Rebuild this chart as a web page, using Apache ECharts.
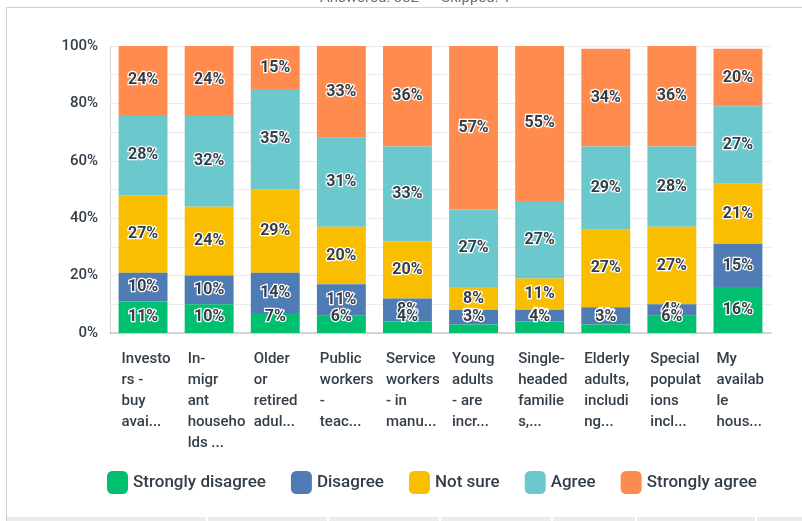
<!DOCTYPE html>
<html>
<head>
<meta charset="utf-8">
<title>Housing survey responses</title>
<script src="https://cdn.jsdelivr.net/npm/echarts@6/dist/echarts.min.js"></script>
<style>
  html, body { margin: 0; padding: 0; background: #ffffff; }
  #chart { width: 802px; height: 521px; }
</style>
</head>
<body>
<div id="chart"></div>
<script>
// Answer groups (one column each), already wrapped the way the axis shows them
var categories = [
  'Investo\nrs -\nbuy\navai...',
  'In-\nmigr\nant\nhouseho\nlds ...',
  'Older\nor\nretired\nadul...',
  'Public\nworkers\n-\nteac...',
  'Service\nworkers\n- in\nmanu...',
  'Young\nadults\n- are\nincr...',
  'Single-\nheaded\nfamilie\ns,...',
  'Elderly\nadults,\nincludi\nng...',
  'Special\npopulat\nions\nincl...',
  'My\navailab\nle\nhous...'
];

// Percent of respondents per answer choice
var stronglyDisagree = [11, 10, 7, 6, 4, 3, 4, 3, 6, 16];
var disagree         = [10, 10, 14, 11, 8, 5, 4, 6, 4, 15];
var notSure          = [27, 24, 29, 20, 20, 8, 11, 27, 27, 21];
var agree            = [28, 32, 35, 31, 33, 27, 27, 29, 28, 27];
var stronglyAgree    = [24, 24, 15, 33, 36, 57, 55, 34, 36, 20];

var seriesNames  = ['Strongly disagree', 'Disagree', 'Not sure', 'Agree', 'Strongly agree'];
var seriesData   = [stronglyDisagree, disagree, notSure, agree, stronglyAgree];
var seriesColors = ['#00bf6f', '#507cb6', '#f9be00', '#6bc8cd', '#ff8b4f'];

var yTicks = [0, 20, 40, 60, 80, 100];

// column dividers of the response table that starts under the chart
var tableDividers = [206, 327, 439, 551, 635, 755];

var textDark = '#333e48';
var chart = echarts.init(document.getElementById('chart'), null, { renderer: 'canvas' });

var series = seriesData.map(function (values, i) {
  return {
    name: seriesNames[i],
    type: 'bar',
    stack: 'total',
    barWidth: '74%',
    // lower segments paint their labels over the ones stacked above
    z: 2 + (seriesData.length - i),
    data: values,
    itemStyle: { color: seriesColors[i] },
    label: {
      show: true,
      position: 'inside',
      formatter: '{c}%',
      fontFamily: 'Roboto',
      fontSize: 16,
      fontWeight: 'bold',
      color: textDark,
      textBorderColor: '#ffffff',
      textBorderWidth: 2.5
    },
    // small bottom segments keep their label fully above the axis
    labelLayout: function (p) {
      var bottom = p.rect.y + p.rect.height;
      var centre = p.rect.y + p.rect.height / 2;
      if (i === 0 && centre > bottom - 16) {
        return {
          x: p.rect.x + p.rect.width / 2,
          y: bottom - 16,
          align: 'center',
          verticalAlign: 'middle'
        };
      }
      return {};
    }
  };
});

var graphics = [
  {
    type: 'rect',
    shape: { x: 6.5, y: 7.5, width: 820, height: 530 },
    style: { fill: 'none', stroke: '#cfcfcf', lineWidth: 1 },
    z: -1
  },
  {
    type: 'rect',
    shape: { x: 7, y: 517, width: 795, height: 4 },
    style: { fill: '#ececec' },
    z: -1
  },
  {
    type: 'text',
    left: 320,
    top: -9,
    style: { text: 'Answered: 382      Skipped: 1', fontFamily: 'Roboto', fontSize: 15, fill: '#6a737d' }
  }
];
tableDividers.forEach(function (x) {
  graphics.push({
    type: 'rect',
    shape: { x: x, y: 517, width: 2, height: 4 },
    style: { fill: '#ffffff' },
    z: 0
  });
});

chart.setOption({
  animation: false,
  backgroundColor: '#ffffff',
  textStyle: { fontFamily: 'Roboto' },
  grid: { left: 110, right: 31, top: 46, bottom: 188 },
  legend: {
    data: seriesNames,
    left: 102,
    top: 466,
    itemWidth: 21,
    itemHeight: 23,
    itemGap: 25,
    icon: 'roundRect',
    selectedMode: false,
    textStyle: { fontFamily: 'Roboto', fontSize: 17, fontWeight: 500, color: textDark }
  },
  xAxis: {
    type: 'category',
    data: categories,
    axisLine: { show: true, lineStyle: { color: '#c9c9c9', width: 1.5 } },
    axisTick: { show: false },
    axisLabel: {
      interval: 0,
      margin: 16,
      align: 'center',
      verticalAlign: 'top',
      formatter: function (v) {
        return v.split('\n').map(function (s) { return '{t|' + s + '}'; }).join('\n');
      },
      rich: {
        t: {
          width: 43,
          align: 'left',
          fontFamily: 'Roboto',
          fontSize: 15,
          fontWeight: 500,
          lineHeight: 21,
          color: textDark
        }
      }
    }
  },
  yAxis: {
    type: 'value',
    min: 0,
    max: 100,
    interval: 10,
    axisLine: { show: true, lineStyle: { color: '#d6d6d6' } },
    axisTick: { show: false },
    splitLine: { show: true, lineStyle: { color: '#ececec' } },
    axisLabel: {
      margin: 12,
      fontFamily: 'Roboto',
      fontSize: 15,
      fontWeight: 500,
      color: textDark,
      formatter: function (v) { return yTicks.indexOf(v) >= 0 ? v + '%' : ''; }
    }
  },
  graphic: graphics,
  series: series
});
</script>
</body>
</html>
